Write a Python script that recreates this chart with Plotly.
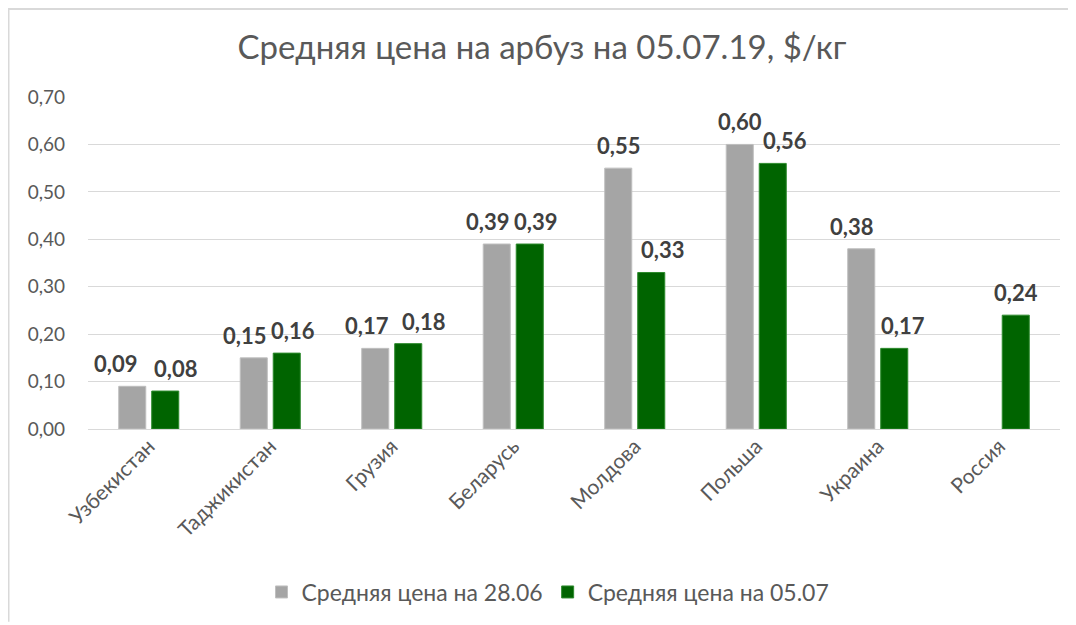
import plotly.graph_objects as go

countries = ["Узбекистан", "Таджикистан", "Грузия", "Беларусь",
             "Молдова", "Польша", "Украина", "Россия"]
price_2806 = [0.09, 0.15, 0.17, 0.39, 0.55, 0.60, 0.38, None]
price_0507 = [0.08, 0.16, 0.18, 0.39, 0.33, 0.56, 0.17, 0.24]
y_ticks = [0.0, 0.1, 0.2, 0.3, 0.4, 0.5, 0.6, 0.7]

FONT = "Lato"
label_font = dict(family=FONT, size=22, color="#404040", weight="bold")

# page body has an 8px margin, so the figure is a bit smaller than the window
W, H = 1068, 617
L, R, T, B = 80, 16, 89, 194
PW, PH = W - L - R, H - T - B
BARGAP, GROUPGAP = 0.457, 0.18
slot = PW / len(countries) * (1 - BARGAP) / 2   # px per bar slot

# sideways nudges of the value labels (px), as in the source chart
nudge_2806 = [-17, -9, -8, -9, 0, 0, -10, 0]
nudge_0507 = [10, 6, 15, 6, 11, 12, 9, 0]


def fmt(v):
    return f"{v:.2f}".replace(".", ",")


fig = go.Figure()
fig.add_trace(go.Bar(
    x=countries, y=price_2806, name="Средняя цена на 28.06",
    marker=dict(color="#a5a5a5", line=dict(color="#bfbfbf", width=1)),
))
fig.add_trace(go.Bar(
    x=countries, y=price_0507, name="Средняя цена на 05.07",
    marker=dict(color="#006400", line=dict(color="#2e8b2e", width=1)),
))

for values, nudges, side in ((price_2806, nudge_2806, -1), (price_0507, nudge_0507, 1)):
    for c, v, n in zip(countries, values, nudges):
        if v is None:
            continue
        fig.add_annotation(x=c, y=v, text=fmt(v), showarrow=False,
                           xanchor="center", yanchor="bottom",
                           xshift=side * slot / 2 + n, yshift=7,
                           font=label_font)

fig.update_layout(
    width=W, height=H,
    margin=dict(l=L, r=R, t=T, b=B),
    paper_bgcolor="white", plot_bgcolor="white",
    separators=", ",
    barmode="group", bargap=BARGAP, bargroupgap=GROUPGAP,
    title=dict(text="Средняя цена на арбуз на 05.07.19, $/кг",
               x=0.5, xref="container", y=1 - 39 / H, yref="container",
               xanchor="center", yanchor="middle",
               font=dict(family=FONT, size=33, color="#595959")),
    legend=dict(orientation="h", x=(548 - 8 - L) / PW, xanchor="center",
                y=(T + PH - 587) / PH, yanchor="middle",
                font=dict(family=FONT, size=23, color="#595959"),
                itemwidth=30, traceorder="normal"),
)
fig.update_yaxes(range=[0, 0.7], tickvals=y_ticks, tickformat=".2f",
                 showgrid=True, gridcolor="#d9d9d9", gridwidth=1,
                 zeroline=True, zerolinecolor="#d9d9d9", zerolinewidth=1,
                 ticks="", ticklabelstandoff=22,
                 tickfont=dict(family=FONT, size=19, color="#595959"))
fig.update_xaxes(tickangle=-45, showline=False, ticks="",
                 tickfont=dict(family=FONT, size=21, color="#595959"))

# light frame along top and left edge of the chart
fx = (0 - L) / PW
fy = (T + PH) / PH
fig.add_shape(type="line", xref="paper", yref="paper",
              x0=fx, x1=(W - L) / PW, y0=fy, y1=fy,
              line=dict(color="#d9d9d9", width=3))
fig.add_shape(type="line", xref="paper", yref="paper",
              x0=fx, x1=fx, y0=fy, y1=(T + PH - H) / PH,
              line=dict(color="#d9d9d9", width=3))

fig.write_html("out.html")
